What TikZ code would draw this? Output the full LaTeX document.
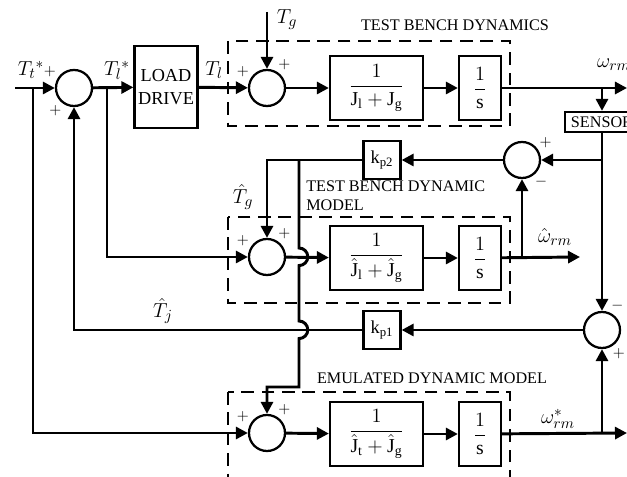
\documentclass[tikz,border=0pt]{standalone}
\usepackage{amsmath,amssymb}
\usepackage{fontspec}
\setmainfont{Liberation Serif}
\usepackage{tikz}
\usetikzlibrary{arrows.meta,positioning,calc}

\begin{document}
\begin{tikzpicture}[
  x=0.025cm, y=0.025cm,
  >={Triangle[length=3mm,width=3mm]},
  sum/.style={circle, draw, line width=1.6pt, minimum size=0.9cm, inner sep=0pt},
  blk/.style={draw, line width=1.6pt, minimum width=2.325cm, minimum height=1.6cm, inner sep=0pt, font=\fontsize{14}{16}\selectfont},
  integ/.style={blk, minimum width=1.05cm},
  gain/.style={draw, line width=1.6pt, minimum width=0.925cm, minimum height=0.95cm, inner sep=0pt, font=\fontsize{13}{15}\selectfont},
  sgn/.style={font=\fontsize{11}{12}\selectfont, inner sep=1pt},
  lbl/.style={font=\fontsize{15}{17}\selectfont, inner sep=0pt},
  title/.style={font=\fontsize{11.5}{13.5}\selectfont, inner sep=0pt, align=left},
  wire/.style={->, line width=2.1pt},
  dashbox/.style={line width=0.8pt, dash pattern=on 9pt off 5.5pt}
]
\clip (0,0) rectangle (627,-477);

% dashed groups
\draw[dashbox] (228,-41) rectangle (510,-126);
\draw[dashbox] (228,-217) rectangle (510,-303);
\draw[dashbox] (228,-392) rectangle (510,-490);
\node[title] (tbd) at (455,-25) {TEST BENCH DYNAMICS};
\node[title, anchor=west] (tbm) at (306,-196) {TEST BENCH DYNAMIC\\MODEL};
\node[title] (edm) at (432,-378) {EMULATED DYNAMIC MODEL};

% summing junctions
\node[sum, label={[sgn]150:$+$}, label={[sgn]235:$+$}] (sum1) at (74,-88) {};
\node[sum, label={[sgn]150:$+$}, label={[sgn]60:$+$}]  (sum2) at (267,-88) {};
\node[sum, label={[sgn]34:$+$}, label={[sgn]-53:$-$}]  (sum3) at (522,-160) {};
\node[sum, label={[sgn]150:$+$}, label={[sgn]60:$+$}]  (sum4) at (267,-257) {};
\node[sum, label={[sgn]66:$-$}, label={[sgn]-61:$+$}]  (sum5) at (602,-330) {};
\node[sum, label={[sgn]150:$+$}, label={[sgn]60:$+$}]  (sum6) at (267,-433) {};

% blocks
\node[draw, line width=1.6pt, minimum width=1.575cm, minimum height=2.05cm, inner sep=0pt,
      align=center, font=\fontsize{13}{16}\selectfont] (load) at (166,-87) {LOAD\\DRIVE};
\node[blk]   (blkA) at (376.5,-88)  {$\dfrac{1}{\mathrm{J_l}+\mathrm{J_g}}$};
\node[integ] (sA)   at (480,-88)    {$\dfrac{1}{\mathrm{s}}$};
\node[blk]   (blkB) at (376.5,-258) {$\dfrac{1}{\hat{\mathrm{J}}_\mathrm{l}+\hat{\mathrm{J}}_\mathrm{g}}$};
\node[integ] (sB)   at (480,-258)   {$\dfrac{1}{\mathrm{s}}$};
\node[blk]   (blkC) at (376.5,-434) {$\dfrac{1}{\hat{\mathrm{J}}_\mathrm{t}+\hat{\mathrm{J}}_\mathrm{g}}$};
\node[integ] (sC)   at (480,-434)   {$\dfrac{1}{\mathrm{s}}$};
\node[gain]  (kp2)  at (382,-160)   {$\mathrm{k_{p2}}$};
\node[gain]  (kp1)  at (382,-330)   {$\mathrm{k_{p1}}$};
\node[draw, line width=1.6pt, minimum width=1.85cm, minimum height=0.5cm, inner sep=0pt,
      font=\fontsize{11.5}{13}\selectfont] (sensor) at (602,-122) {SENSOR};

% free ends and branch points
\coordinate (tin)  at (15,-88);
\coordinate (jA)   at (33,-88);
\coordinate (jB)   at (107,-88);
\coordinate (tg)   at (267,-12);
\coordinate (out1) at (627,-88);
\coordinate (jS)   at (602,-88);
\coordinate (jS2)  at (602,-160);
\coordinate (jK)   at (299,-160);
\coordinate (jM)   at (522,-257);
\coordinate (out2) at (580,-257);
\coordinate (jE)   at (602,-433);
\coordinate (out3) at (627,-433);

% signal labels
\node[lbl] (lTt)  at (31,-70)   {$T_t{}^{*}$};
\node[lbl] (lTl1) at (117,-70)  {$T_l{}^{*}$};
\node[lbl] (lTl)  at (214,-70)  {$T_l$};
\node[lbl] (lTg)  at (287,-20)  {$T_g$};
\node[lbl] (lw)   at (614,-65)  {$\omega_{rm}$};
\node[lbl] (lTgh) at (243,-197) {$\hat{T}_g$};
\node[lbl] (lwh)  at (555,-237) {$\hat{\omega}_{rm}$};
\node[lbl] (lTjh) at (163,-311) {$\hat{T}_j$};
\node[lbl] (lws)  at (558,-419) {$\omega^{*}_{rm}$};

% test bench path
\draw[wire] (tin) -- (sum1);
\draw[wire] (sum1) -- (load);
\draw[wire] (load) -- (sum2);
\draw[wire] (tg) -- (sum2);
\draw[wire] (sum2) -- (blkA);
\draw[wire] (blkA) -- (sA);
\draw[wire] (sA) -- (out1);
\draw[wire] (jS) -- (sensor);
\draw[wire] (sensor) -- (sum5);
\draw[wire] (jS2) -- (sum3);

% observer path
\draw[wire] (sum3) -- (kp2);
\draw[wire] (kp2) -| (sum4);
\draw[wire] (jB) |- (sum4);
\draw[wire] (sum4) -- (blkB);
\draw[wire] (blkB) -- (sB);
\draw[wire] (sB) -- (out2);
\draw[wire] (jM) -- (sum3);

% emulation path
\draw[wire] (jA) |- (sum6);
\draw[wire] (sum6) -- (blkC);
\draw[wire] (blkC) -- (sC);
\draw[wire] (sC) -- (out3);
\draw[wire] (jE) -- (sum5);
\draw[wire] (sum5) -- (kp1);
\draw[wire] (kp1) -| (sum1);
\draw[wire] (jK) -- (299,-248) arc[start angle=90, end angle=-90, radius=2.2mm]
  -- (299,-321) arc[start angle=90, end angle=-90, radius=2.2mm]
  -- (299,-387) -| (sum6);
\end{tikzpicture}
\end{document}
